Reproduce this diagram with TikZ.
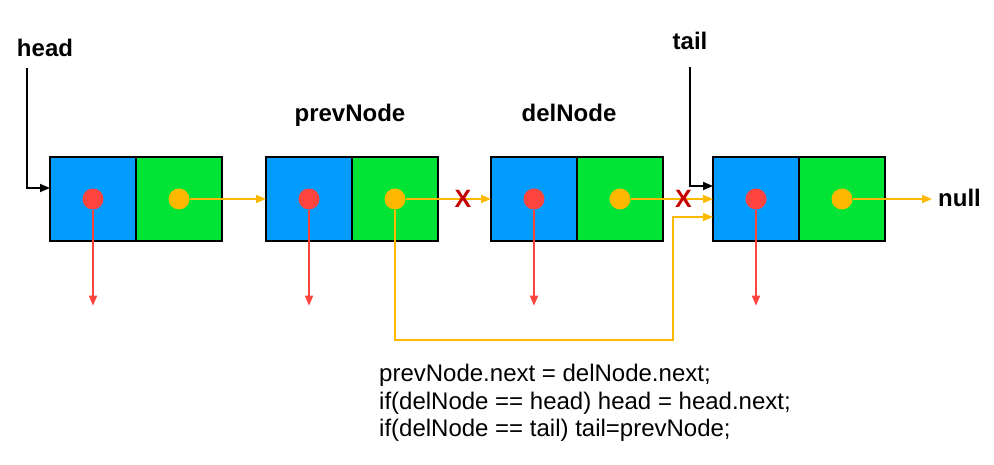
\documentclass[tikz,border=0pt]{standalone}
\usepackage{fontspec}
\setmainfont{Liberation Sans}
\usetikzlibrary{arrows.meta,
                positioning}
\definecolor{cellblue}{RGB}{2,155,254}
\definecolor{cellgreen}{RGB}{0,229,53}
\definecolor{dotred}{RGB}{253,68,62}
\definecolor{dotorange}{RGB}{255,184,0}
\definecolor{xred}{RGB}{196,0,0}

\begin{document}
\begin{tikzpicture}[x=1pt,y=-1pt,
  cell/.style={draw,line width=2pt,minimum width=86pt,minimum height=84pt,inner sep=0pt,outer sep=0pt},
  valcell/.style={cell,fill=cellblue},
  nextcell/.style={cell,fill=cellgreen},
  dot/.style={circle,inner sep=0pt,minimum size=21pt},
  tip/.style={-{Triangle[length=10pt,width=8pt]}},
  valarr/.style={draw=dotred,line width=1.6pt,tip},
  nextarr/.style={draw=dotorange,line width=1.6pt,tip},
  ptr/.style={draw=black,line width=1.7pt,tip},
  lbl/.style={font=\bfseries\fontsize{24}{28}\selectfont,inner sep=0pt},
  xmark/.style={text=xred,font=\bfseries\fontsize{25}{28}\selectfont,inner sep=0pt},
  code/.style={font=\fontsize{24}{27.5}\selectfont,align=left,inner sep=0pt}]
 \useasboundingbox (0,0) rectangle (994,465);
 % list nodes
 \foreach \i/\x in {1/93,2/309,3/534,4/756} {
   \node[valcell] (val\i) at (\x,199) {};
   \node[nextcell,right=0pt of val\i] (nxt\i) {};
   \node[dot,fill=dotred] (v\i dot) at (val\i) {};
   \node[dot,fill=dotorange] (n\i dot) at (nxt\i) {};
   \coordinate (v\i end) at ([yshift=-96pt]v\i dot.south);
   \draw[valarr] (v\i dot.south) -- (v\i end);
 }
 \node[lbl,anchor=base] (headlbl) at (45,57) {head};
 \node[lbl,anchor=base] (taillbl) at (690,50) {tail};
 \node[lbl,anchor=base] (prevlbl) at (350,122) {prevNode};
 \node[lbl,anchor=base] (dellbl) at (569,122) {delNode};
 \node[lbl,anchor=base west] (nulllbl) at (938,207) {null};
 \draw[ptr] ([xshift=-18pt,yshift=-11pt]headlbl.base) |- ([yshift=11pt]val1.west);
 \draw[ptr] ([yshift=-17pt]taillbl.base) |- ([yshift=13pt]val4.west);
 \draw[nextarr] (n1dot.east) -- (val2.west);
 \draw[nextarr] (n2dot.east) -- node[pos=.67,xmark] {X} (val3.west);
 \draw[nextarr] (n3dot.east) -- node[pos=.64,xmark] {X} (val4.west);
 \draw[nextarr,shorten >=6pt] (n4dot.east) -- (nulllbl.west |- n4dot);
 \coordinate (bend) at (673,340);
 \draw[nextarr] (n2dot.south) |- (bend) |- ([yshift=-18pt]val4.west);
 \node[code,anchor=north west] (code) at (379,364) {prevNode.next = delNode.next;\\
   if(delNode == head) head = head.next;\\
   if(delNode == tail) tail=prevNode;};
\end{tikzpicture}
\end{document}
